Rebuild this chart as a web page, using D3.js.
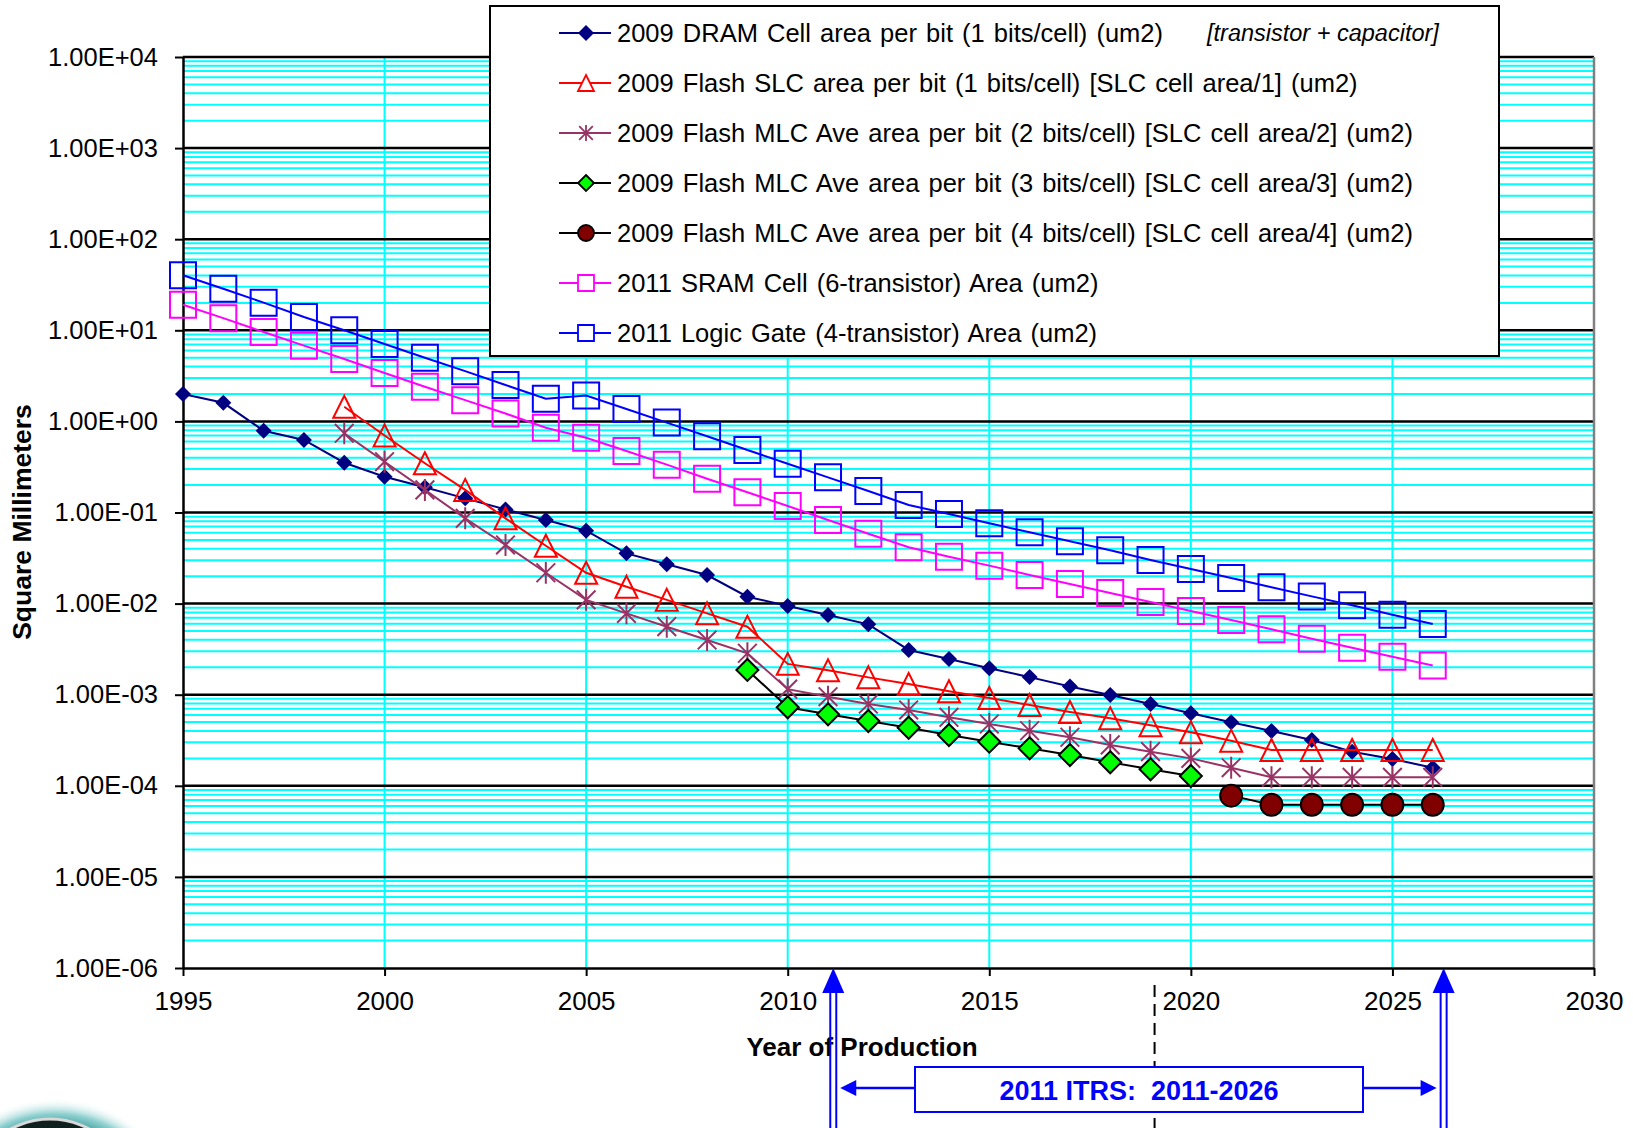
<!DOCTYPE html>
<html>
<head>
<meta charset="utf-8">
<script src="https://cdn.jsdelivr.net/npm/d3@7"></script>
<style>
  body { margin: 0; background: #fff; }
  svg { display: block; font-family: "Liberation Sans", Arial, sans-serif; }
</style>
</head>
<body>
<svg id="chart" width="1633" height="1128"></svg>
<script>
const N = null;

// years of production (x categories)
const years = [1995, 1996, 1997, 1998, 1999, 2000, 2001, 2002, 2003, 2004,
  2005, 2006, 2007, 2008, 2009, 2010, 2011, 2012, 2013, 2014,
  2015, 2016, 2017, 2018, 2019, 2020, 2021, 2022, 2023, 2024, 2025, 2026];

// values
const dramArea = [2.0, 1.6, 0.79, 0.625, 0.352, 0.247, 0.189, 0.143, 0.108, 0.0827,
  0.0631, 0.0356, 0.0270, 0.0206, 0.0119, 0.00941, 0.00748, 0.00592, 0.00310, 0.00247,
  0.00195, 0.00156, 0.00123, 0.000993, 0.000791, 0.000625, 0.000498, 0.000400, 0.000318, 0.000237,
  0.000197, 0.000158];
const flashSlcArea = [N, N, N, N, 1.45, 0.70, 0.347, 0.177, 0.0863, 0.0432,
  0.0218, 0.0153, 0.0110, 0.00782, 0.00558, 0.00218, 0.00185, 0.00155, 0.00131, 0.00109,
  0.00092, 0.00077, 0.000646, 0.000551, 0.000461, 0.000387, 0.000313, 0.000247, 0.000247, 0.000247,
  0.000247, 0.000247];
const flashMlc2Area = [N, N, N, N, 0.74, 0.361, 0.177, 0.0863, 0.0440, 0.0218,
  0.0110, 0.00782, 0.00558, 0.00398, 0.00285, 0.00115, 0.00095, 0.00079, 0.00068, 0.000565,
  0.000477, 0.000402, 0.000341, 0.000281, 0.000237, 0.000200, 0.000158, 0.000124, 0.000124, 0.000124,
  0.000124, 0.000124];
const flashMlc3Area = [N, N, N, N, N, N, N, N, N, N,
  N, N, N, N, 0.00187, 0.000727, 0.000609, 0.000514, 0.000434, 0.000361,
  0.000305, 0.000258, 0.000218, 0.000181, 0.000152, 0.000128, N, N, N, N,
  N, N];
const flashMlc4Area = [N, N, N, N, N, N, N, N, N, N,
  N, N, N, N, N, N, N, N, N, N,
  N, N, N, N, N, N, 7.8e-5, 6.2e-5, 6.2e-5, 6.2e-5,
  6.2e-5, 6.2e-5];
const sramArea = [19.1, 13.6, 9.58, 6.78, 4.84, 3.40, 2.40, 1.71, 1.22, 0.853,
  0.662, 0.473, 0.335, 0.235, 0.167, 0.118, 0.0827, 0.0585, 0.0415, 0.0327,
  0.0261, 0.0206, 0.0164, 0.0131, 0.0104, 0.0083, 0.0066, 0.00522, 0.00412, 0.00328,
  0.00261, 0.00209];
const logicGateArea = [40.2, 28.6, 20.1, 14.0, 10.0, 7.08, 5.0, 3.56, 2.51, 1.77,
  1.92, 1.37, 0.97, 0.686, 0.485, 0.343, 0.243, 0.172, 0.121, 0.0963,
  0.0761, 0.0606, 0.0483, 0.0385, 0.0301, 0.0240, 0.0191, 0.0151, 0.0120, 0.00957,
  0.00755, 0.00597];

const seriesNames = [
  "2009 DRAM Cell area per bit (1 bits/cell) (um2)",
  "2009 Flash SLC area per bit (1 bits/cell) [SLC cell area/1] (um2)",
  "2009 Flash MLC Ave area per bit (2 bits/cell) [SLC cell area/2] (um2)",
  "2009 Flash MLC Ave area per bit (3 bits/cell) [SLC cell area/3] (um2)",
  "2009 Flash MLC Ave area per bit (4 bits/cell) [SLC cell area/4] (um2)",
  "2011 SRAM Cell (6-transistor) Area (um2)",
  "2011 Logic Gate (4-transistor) Area (um2)"
];
const dramNote = "[transistor + capacitor]";

// axis ticks
const xTicks = [1995, 2000, 2005, 2010, 2015, 2020, 2025, 2030];
const yTicks = [1e-6, 1e-5, 1e-4, 1e-3, 1e-2, 1e-1, 1e0, 1e1, 1e2, 1e3, 1e4];
const yTickLabels = ["1.00E-06", "1.00E-05", "1.00E-04", "1.00E-03", "1.00E-02",
  "1.00E-01", "1.00E+00", "1.00E+01", "1.00E+02", "1.00E+03", "1.00E+04"];
const minorSteps = [2, 3, 4, 5, 6, 7, 8, 9];

// annotation
const itrsLabel = "2011 ITRS:  2011-2026";
const itrsArrowYears = [2011.13, 2026.27];
const dashedYear = 2019.1;

// series styling
const series = [
  { values: dramArea, line: "#000080", marker: "diamond", size: 8, fill: "#000080", stroke: "none" },
  { values: flashSlcArea, line: "#ff0000", marker: "triangle", size: 11, fill: "none", stroke: "#ff0000" },
  { values: flashMlc2Area, line: "#993366", marker: "star", size: 11, fill: "none", stroke: "#993366" },
  { values: flashMlc3Area, line: "#000000", marker: "diamond", size: 11, fill: "#00ff00", stroke: "#000000" },
  { values: flashMlc4Area, line: "#000000", marker: "circle", size: 11, fill: "#800000", stroke: "#000000" },
  { values: sramArea, line: "#ff00ff", marker: "square", size: 13, fill: "none", stroke: "#ff00ff" },
  { values: logicGateArea, line: "#0000ff", marker: "square", size: 13, fill: "none", stroke: "#0000ff" }
];

const margin = { top: 57, left: 183, right: 1594, bottom: 968 };

let svg = d3.select("#chart");

let x = d3.scaleLinear().domain([1995, 2030]).range([margin.left, margin.right]);
let y = d3.scaleLog().domain([1e-6, 1e4]).range([margin.bottom, margin.top]);

// marker shapes
function markerPath(type, s) {
  if (type === "diamond") return `M0,${-s}L${s},0L0,${s}L${-s},0Z`;
  if (type === "triangle") return `M0,${-s}L${s},${s}L${-s},${s}Z`;
  if (type === "square") return `M${-s},${-s}H${s}V${s}H${-s}Z`;
  if (type === "star") return `M0,${-s}V${s}M${-s * 0.85},${-s * 0.85}L${s * 0.85},${s * 0.85}M${s * 0.85},${-s * 0.85}L${-s * 0.85},${s * 0.85}`;
  if (type === "circle") return `M${-s},0A${s},${s} 0 1,0 ${s},0A${s},${s} 0 1,0 ${-s},0Z`;
}

// gridlines
let grid = svg.append("g");
let minor = yTicks.slice(0, -1).flatMap(d => minorSteps.map(k => k * d));
grid.selectAll(".minor").data(minor).join("line")
  .attr("class", "minor")
  .attr("x1", margin.left).attr("x2", margin.right)
  .attr("y1", d => y(d)).attr("y2", d => y(d))
  .attr("stroke", "#00ffff").attr("stroke-width", 2);
grid.selectAll(".vline").data(xTicks.slice(1, -1)).join("line")
  .attr("class", "vline")
  .attr("x1", d => x(d)).attr("x2", d => x(d))
  .attr("y1", margin.top).attr("y2", margin.bottom)
  .attr("stroke", "#00ffff").attr("stroke-width", 2);
grid.selectAll(".major").data(yTicks.slice(1)).join("line")
  .attr("class", "major")
  .attr("x1", margin.left).attr("x2", margin.right)
  .attr("y1", d => y(d)).attr("y2", d => y(d))
  .attr("stroke", "#000").attr("stroke-width", 2.5);
// right border
grid.append("line")
  .attr("x1", margin.right).attr("x2", margin.right)
  .attr("y1", margin.top).attr("y2", margin.bottom)
  .attr("stroke", "#808080").attr("stroke-width", 2.5);

// axes
let yAxis = svg.append("g")
  .attr("transform", `translate(${margin.left},0)`)
  .call(d3.axisLeft(y).tickValues(yTicks).tickSize(8).tickSizeOuter(0).tickPadding(17)
    .tickFormat((d, i) => yTickLabels[i]));
let xAxis = svg.append("g")
  .attr("transform", `translate(0,${margin.bottom})`)
  .call(d3.axisBottom(x).tickValues(xTicks).tickSize(8).tickSizeOuter(0).tickPadding(16)
    .tickFormat(d3.format("d")));
[yAxis, xAxis].forEach(a => {
  a.select(".domain").attr("stroke", "#000").attr("stroke-width", 2.5);
  a.selectAll(".tick line").attr("stroke", "#000").attr("stroke-width", 2);
  a.selectAll("text").attr("fill", "#000").attr("font-family", "Liberation Sans, Arial, sans-serif");
});
yAxis.selectAll("text").attr("font-size", 25.5);
xAxis.selectAll("text").attr("font-size", 26);

svg.append("text")
  .attr("transform", "translate(31,522) rotate(-90)")
  .attr("text-anchor", "middle")
  .attr("font-size", 26.5).attr("font-weight", "bold")
  .text("Square Millimeters");

svg.append("text")
  .attr("x", 862).attr("y", 1056)
  .attr("text-anchor", "middle")
  .attr("font-size", 26).attr("font-weight", "bold")
  .text("Year of Production");

// series
let line = d3.line()
  .defined(d => d[1] != null)
  .x(d => x(d[0]))
  .y(d => y(d[1]));

series.forEach(s => {
  let pts = years.map((yr, i) => [yr, s.values[i]]);
  let g = svg.append("g");
  g.append("path")
    .attr("d", line(pts))
    .attr("fill", "none")
    .attr("stroke", s.line)
    .attr("stroke-width", 2);
  g.selectAll("path.m").data(pts.filter(d => d[1] != null)).join("path")
    .attr("class", "m")
    .attr("transform", d => `translate(${x(d[0])},${y(d[1])})`)
    .attr("d", markerPath(s.marker, s.size))
    .attr("fill", s.fill)
    .attr("stroke", s.stroke)
    .attr("stroke-width", s.fill === "#000080" ? 0 : 2);
});

// legend
let legend = svg.append("g");
legend.append("rect")
  .attr("x", 490).attr("y", 6).attr("width", 1009).attr("height", 350)
  .attr("fill", "#fff").attr("stroke", "#000").attr("stroke-width", 2);
series.forEach((s, i) => {
  let ly = 33 + i * 50;
  let row = legend.append("g").attr("transform", `translate(0,${ly})`);
  row.append("line")
    .attr("x1", 559).attr("x2", 611)
    .attr("stroke", s.line).attr("stroke-width", 2);
  row.append("path")
    .attr("transform", "translate(586,0)")
    .attr("d", markerPath(s.marker, 8))
    .attr("fill", s.fill === "none" ? "#fff" : s.fill)
    .attr("stroke", s.stroke)
    .attr("stroke-width", s.fill === "#000080" ? 0 : 1.8);
  row.append("text")
    .attr("x", 617).attr("dy", "0.36em")
    .attr("font-size", 25.5)
    .attr("word-spacing", 2)
    .text(seriesNames[i]);
});
legend.append("text")
  .attr("x", 1207).attr("y", 33).attr("dy", "0.36em")
  .attr("font-size", 23.5).attr("font-style", "italic")
  .text(dramNote);

// dashed separator (sits behind the ITRS box)
svg.append("line")
  .attr("x1", x(dashedYear)).attr("x2", x(dashedYear))
  .attr("y1", 985).attr("y2", 1128)
  .attr("stroke", "#000").attr("stroke-width", 2)
  .attr("stroke-dasharray", "12,7");

// ITRS annotation
let ann = svg.append("g").attr("fill", "#0000ff").attr("stroke", "#0000ff");
itrsArrowYears.forEach(yr => {
  let cx = x(yr);
  ann.append("path")
    .attr("d", `M${cx},${margin.bottom}L${cx + 11},${margin.bottom + 25}L${cx - 11},${margin.bottom + 25}Z`)
    .attr("stroke", "none");
  [-3, 3].forEach(dx => ann.append("line")
    .attr("x1", cx + dx).attr("x2", cx + dx)
    .attr("y1", margin.bottom + 24).attr("y2", 1128)
    .attr("stroke-width", 2));
});

let boxL = 915, boxR = 1363, arrowY = 1088;
let leftTip = x(itrsArrowYears[0]) + 7, rightTip = x(itrsArrowYears[1]) - 7;
ann.append("line").attr("x1", boxL).attr("x2", leftTip + 14).attr("y1", arrowY).attr("y2", arrowY).attr("stroke-width", 2.5);
ann.append("path").attr("d", `M${leftTip},${arrowY}L${leftTip + 16},${arrowY - 8}L${leftTip + 16},${arrowY + 8}Z`).attr("stroke", "none");
ann.append("line").attr("x1", boxR).attr("x2", rightTip - 14).attr("y1", arrowY).attr("y2", arrowY).attr("stroke-width", 2.5);
ann.append("path").attr("d", `M${rightTip},${arrowY}L${rightTip - 16},${arrowY - 8}L${rightTip - 16},${arrowY + 8}Z`).attr("stroke", "none");
ann.append("rect")
  .attr("x", boxL).attr("y", 1067).attr("width", boxR - boxL).attr("height", 45)
  .attr("fill", "#fff").attr("stroke-width", 2);
ann.append("text")
  .attr("x", (boxL + boxR) / 2).attr("y", 1090).attr("dy", "0.36em")
  .attr("text-anchor", "middle")
  .attr("stroke", "none")
  .style("white-space", "pre")
  .attr("font-size", 27).attr("font-weight", "bold")
  .text(itrsLabel);

// corner logo fragment
let defs = svg.append("defs");
let glow = defs.append("radialGradient").attr("id", "glow");
glow.append("stop").attr("offset", "0.72").attr("stop-color", "#2a8f8f");
glow.append("stop").attr("offset", "0.86").attr("stop-color", "#8fd0d0");
glow.append("stop").attr("offset", "1").attr("stop-color", "#ffffff").attr("stop-opacity", 0);
svg.append("ellipse").attr("cx", 55).attr("cy", 1210).attr("rx", 125).attr("ry", 112).attr("fill", "url(#glow)");
svg.append("ellipse").attr("cx", 50).attr("cy", 1205).attr("rx", 84).attr("ry", 86)
  .attr("fill", "#10201f").attr("stroke", "#d8d8d8").attr("stroke-width", 3);
</script>
</body>
</html>
